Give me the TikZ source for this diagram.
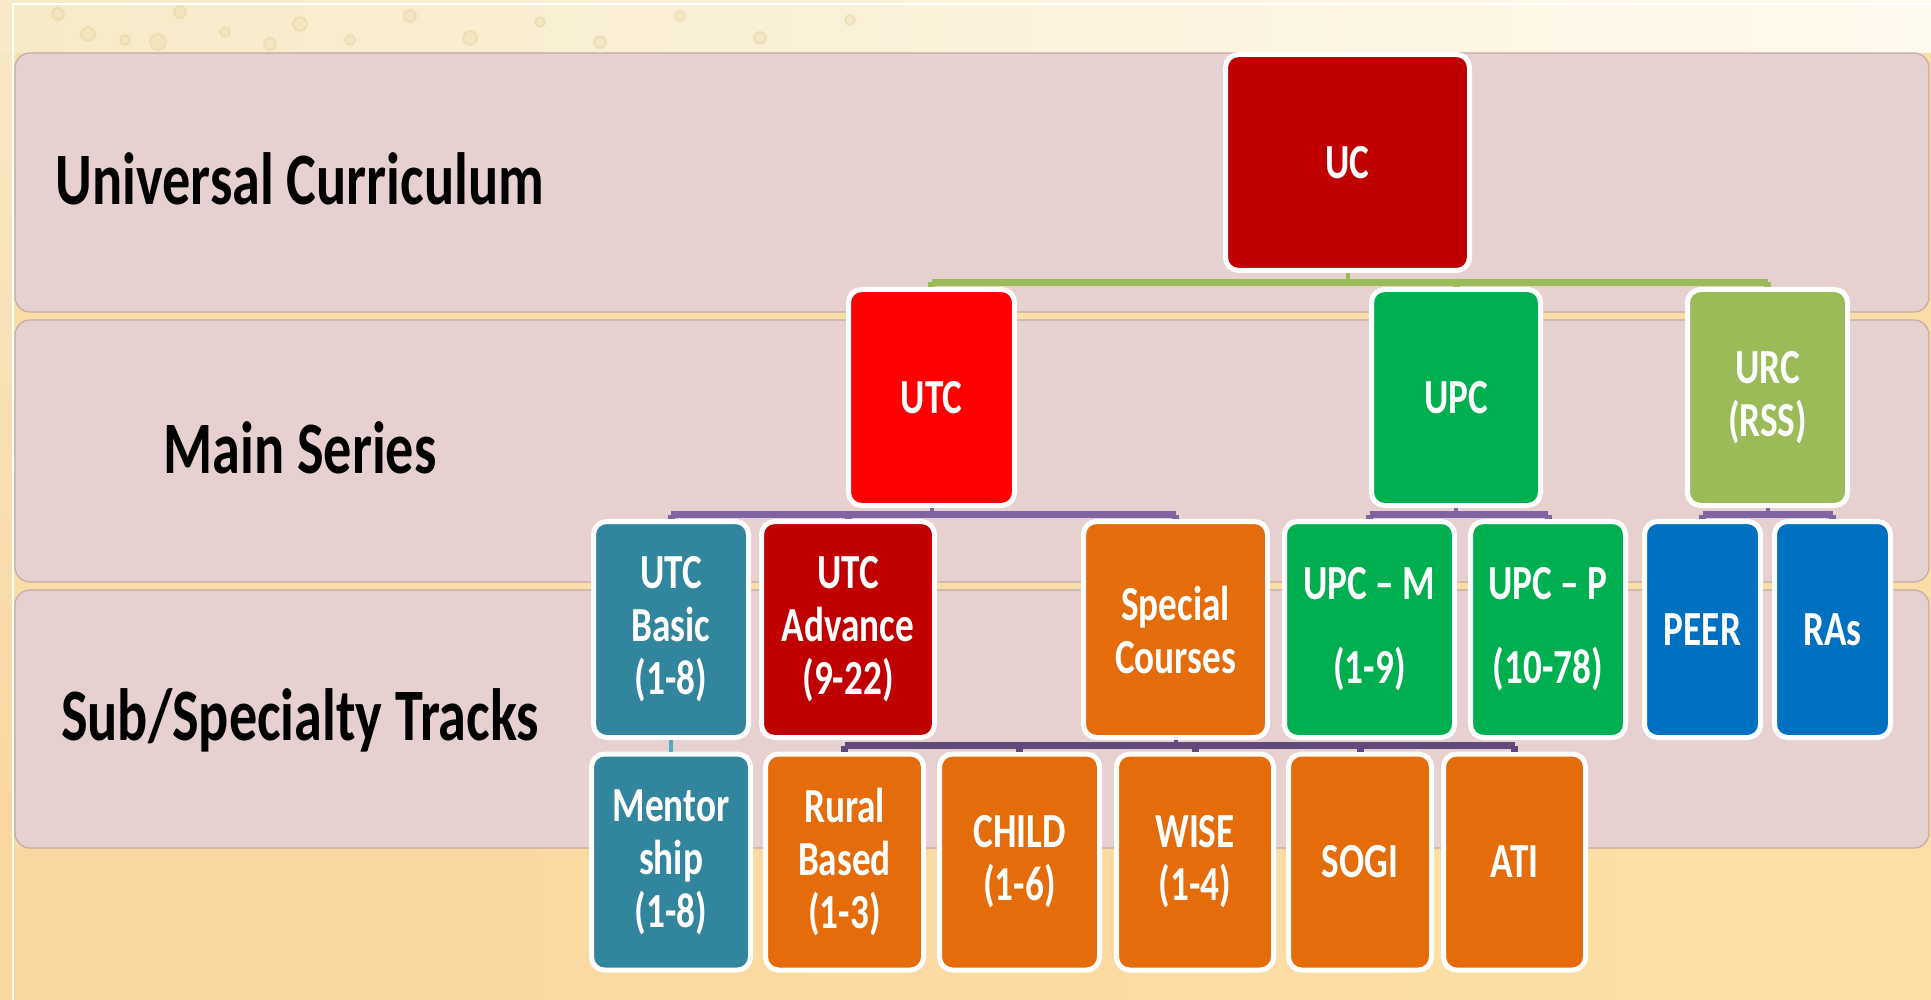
\documentclass[tikz,border=0pt]{standalone}
\usepackage{fontspec}
\setmainfont{Carlito}[FakeStretch=0.76]
\usetikzlibrary{calc}
\definecolor{bgBase}{HTML}{FBDDA8}
\definecolor{bandFill}{HTML}{E6D0D0}
\definecolor{bandLine}{HTML}{C2ABA3}
\definecolor{cUC}{HTML}{C00000}
\definecolor{cUTC}{HTML}{FF0000}
\definecolor{cGreenBox}{HTML}{00B050}
\definecolor{cOlive}{HTML}{9BBB59}
\definecolor{cTeal}{HTML}{31859C}
\definecolor{cOrange}{HTML}{E46C0A}
\definecolor{cBlue}{HTML}{0070C0}
\definecolor{cPurple}{HTML}{8064A2}
\definecolor{cDarkPurple}{HTML}{604A7B}
\definecolor{cLightTeal}{HTML}{4BACC6}
\definecolor{bokeh}{HTML}{E6D29A}
\newcommand\bxfont{\bfseries\fontsize{49}{53}\selectfont}
\newcommand\lblfont{\bfseries\fontsize{74}{80}\selectfont}
\tikzset{
  box/.style={draw=white, line width=5pt, rounded corners=13pt, text=white,
    align=center, font=\bxfont, inner sep=0pt, minimum height=216pt},
  band/.style={fill=bandFill, draw=bandLine, line width=1.2pt, rounded corners=15pt},
  lbl/.style={font=\lblfont, text=black, anchor=base, inner sep=0pt},
  bar/.style={line width=7pt},
  stem/.style={line width=4pt},
  dot/.style={fill=bokeh, draw=bokeh, line width=2pt, fill opacity=0.25, draw opacity=0.45}
}
\begin{document}
\begin{tikzpicture}[x=1pt, y=-1pt]
\useasboundingbox (0,0) rectangle (1931,1000);
% background
\fill[bgBase] (0,0) rectangle (1931,1000);
\shade[left color={rgb,255:red,247;green,234;blue,200}, right color={rgb,255:red,255;green,250;blue,238}] (0,0) rectangle (1931,53);
\shade[left color={rgb,255:red,250;green,214;blue,160}, middle color={rgb,255:red,255;green,240;blue,218}, right color={rgb,255:red,253;green,223;blue,166}] (0,848) rectangle (1931,1000);
\shade[top color={rgb,255:red,247;green,232;blue,196}, bottom color={rgb,255:red,250;green,214;blue,160}] (0,53) rectangle (15,848);
\foreach \px/\py/\r in {58/14/6, 88/34/7, 125/40/5, 158/42/8, 180/12/6, 225/32/5, 270/44/6, 300/24/7, 350/40/5, 410/16/6, 470/38/7, 540/22/5, 600/42/6, 680/16/5, 760/38/6, 850/20/5}
  \draw[dot] (\px,\py) circle (\r);
% white frame
\draw[white, line width=2.5pt] (13,1000) -- (13,4) -- (1931,4);
% bands
\draw[band] (15,53) rectangle (1929,312);
\draw[band] (15,320) rectangle (1929,582);
\draw[band] (15,590) rectangle (1929,848);
% labels
\node[lbl] (lab1) at (300,205) {Universal Curriculum};
\node[lbl] (lab2) at (300,473) {Main Series};
\node[lbl] (lab3) at (300,740) {Sub/Specialty Tracks};
% level 0
\node[box, fill=cUC, minimum width=244pt] (uc) at (1347.5,162.5) {UC};
% level 1
\node[box, fill=cUTC, minimum width=166pt] (utc) at (931.5,397.5) {UTC};
\node[box, fill=cGreenBox, minimum width=169pt] (upc) at (1456,397.5) {UPC};
\node[box, fill=cOlive, minimum width=160pt] (urc) at (1767.5,397.5) {URC\\(RSS)};
% level 2
\node[box, fill=cTeal, minimum width=155pt] (basic) at (671,629.5) {UTC\\Basic\\(1-8)};
\node[box, fill=cUC, minimum width=173pt] (adv) at (848,629.5) {UTC\\Advance\\(9-22)};
\node[box, fill=cOrange, minimum width=184pt] (special) at (1175.5,629.5) {Special\\Courses};
\node[box, fill=cGreenBox, minimum width=170pt] (upcm) at (1369.5,629.5) {UPC – M\\[31pt](1-9)};
\node[box, fill=cGreenBox, minimum width=155pt] (upcp) at (1548,629.5) {UPC – P\\[31pt](10-78)};
\node[box, fill=cBlue, minimum width=116pt] (peer) at (1702.5,629.5) {PEER};
\node[box, fill=cBlue, minimum width=116pt] (ras) at (1832.5,629.5) {RAs};
% level 3
\node[box, fill=cTeal, minimum width=159pt] (mentor) at (671,862) {Mentor\\ship\\(1-8)};
\node[box, fill=cOrange, minimum width=158pt] (rural) at (844.5,862) {Rural\\Based\\(1-3)};
\node[box, fill=cOrange, minimum width=160pt] (child) at (1019.5,862) {CHILD\\(1-6)};
\node[box, fill=cOrange, minimum width=157pt] (wise) at (1195,862) {WISE\\(1-4)};
\node[box, fill=cOrange, minimum width=143pt] (sogi) at (1360,862) {SOGI};
\node[box, fill=cOrange, minimum width=142pt] (ati) at (1514.5,862) {ATI};
% connectors: UC
\coordinate (g) at (1347.5,282.5);
\draw[stem, cOlive] (uc.south) -- (g);
\draw[bar, cOlive] (utc.north |- g) -- (urc.north |- g);
\foreach \c in {utc,upc,urc} \draw[bar, cOlive] (\c.north |- g) -- (\c.north);
% UTC
\coordinate (p1) at (931.5,514.5);
\draw[stem, cPurple] (utc.south) -- (p1);
\draw[bar, cPurple] (basic.north |- p1) -- (special.north |- p1);
\foreach \c in {basic,adv,special} \draw[bar, cPurple] (\c.north |- p1) -- (\c.north);
% UPC
\coordinate (p2) at (1456,514.5);
\draw[stem, cPurple] (upc.south) -- (p2);
\draw[bar, cPurple] (upcm.north |- p2) -- (upcp.north |- p2);
\foreach \c in {upcm,upcp} \draw[bar, cPurple] (\c.north |- p2) -- (\c.north);
% URC
\coordinate (p3) at (1767.5,514.5);
\draw[stem, cPurple] (urc.south) -- (p3);
\draw[bar, cPurple] (peer.north |- p3) -- (ras.north |- p3);
\foreach \c in {peer,ras} \draw[bar, cPurple] (\c.north |- p3) -- (\c.north);
% UTC Basic -> Mentorship
\draw[line width=3.5pt, cLightTeal] (basic.south) -- (mentor.north);
% Special courses
\coordinate (p4) at (1175.5,745.5);
\draw[stem, cDarkPurple] (special.south) -- (p4);
\draw[bar, cDarkPurple] (rural.north |- p4) -- (ati.north |- p4);
\foreach \c in {rural,child,wise,sogi,ati} \draw[bar, cDarkPurple] (\c.north |- p4) -- (\c.north);
\end{tikzpicture}
\end{document}
